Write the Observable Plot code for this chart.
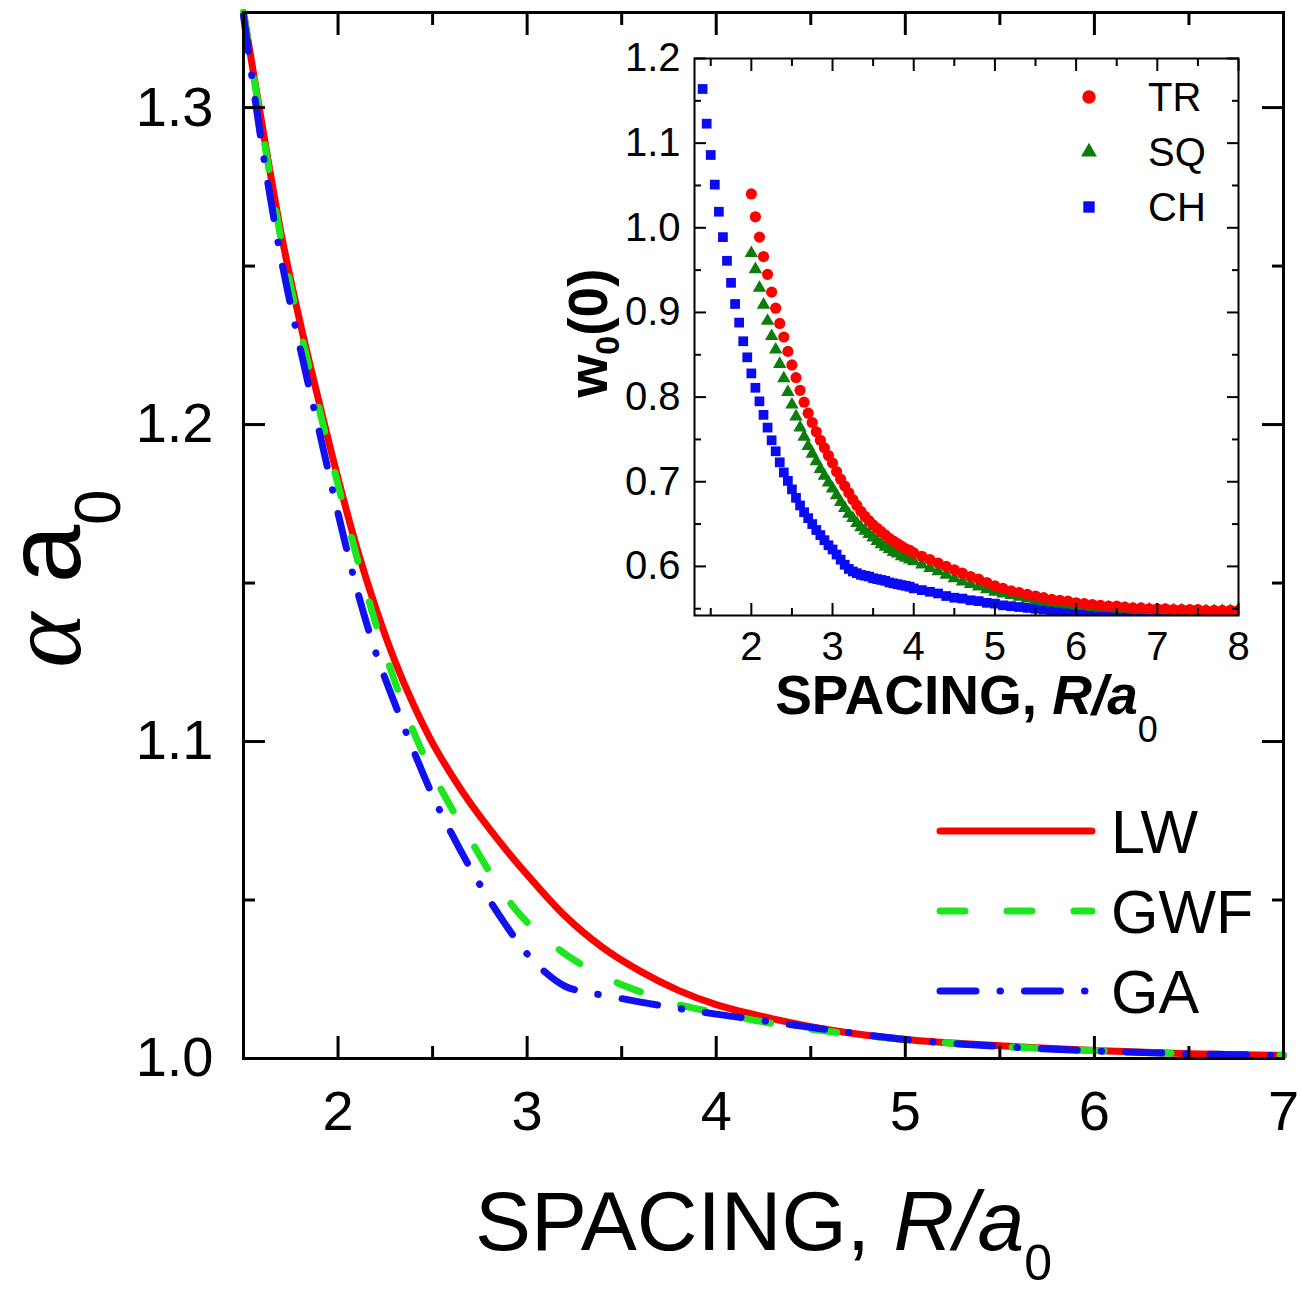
<!DOCTYPE html>
<html>
<head>
<meta charset="utf-8">
<script src="https://cdn.jsdelivr.net/npm/d3@7"></script>
<script src="https://cdn.jsdelivr.net/npm/@observablehq/plot@0.6"></script>
<style>
  body { margin: 0; background: #fff; }
  #wrap { position: relative; width: 1301px; height: 1291px; }
  #wrap > svg { position: absolute; }
</style>
</head>
<body>
<div id="wrap"></div>
<script>
// ---------- Main chart data ----------
const mainR = [1.5,1.6,1.7,1.8,1.9,2.0,2.1,2.2,2.3,2.4,2.5,2.6,2.7,2.8,2.9,3.0,3.2,3.4,3.6,3.8,4.0,4.3,4.6,5.0,5.5,6.0,6.5,7.0];
const alphaLW  = [1.330,1.294,1.260,1.232,1.207,1.183,1.161,1.142,1.1255,1.1115,1.0995,1.0895,1.0805,1.0725,1.065,1.058,1.045,1.035,1.0275,1.0215,1.017,1.0125,1.009,1.006,1.004,1.0025,1.0015,1.001];
const alphaGWF = [1.330,1.293,1.258,1.230,1.205,1.181,1.158,1.137,1.119,1.103,1.090,1.079,1.069,1.059,1.050,1.043,1.033,1.026,1.021,1.017,1.0145,1.011,1.0085,1.006,1.0038,1.0025,1.0015,1.001];
const gaR = [1.5,1.6,1.7,1.8,1.9,2.0,2.1,2.2,2.3,2.4,2.5,2.6,2.7,2.8,2.9,3.0,3.1,3.2,3.3,3.4,3.6,3.8,4.0,4.3,4.6,5.0,5.5,6.0,6.5,7.0];
const alphaGA  = [1.329,1.287,1.252,1.224,1.198,1.172,1.148,1.128,1.112,1.097,1.083,1.071,1.060,1.050,1.041,1.033,1.027,1.0228,1.0210,1.0200,1.0178,1.0158,1.014,1.0115,1.009,1.006,1.0038,1.0024,1.0015,1.001];
const mainSeries = ["LW", "GWF", "GA"];
const mainXTicks = [2,3,4,5,6,7];
const mainXMinor = [1.5,2.5,3.5,4.5,5.5,6.5];
const mainYTicks = [1.0,1.1,1.2,1.3];
const mainYMinor = [1.05,1.15,1.25];

// ---------- Inset data ----------
const chR = [1.40,1.45,1.50,1.55,1.60,1.65,1.70,1.75,1.80,1.85,1.90,1.95,2.00,2.05,2.10,2.15,2.20,2.25,2.30,2.35,2.40,2.45,2.50,2.55,2.60,2.65,2.70,2.75,2.80,2.85,2.90,2.95,3.00,3.05,3.10,3.15,3.20,3.25,3.30,3.35,3.40,3.45,3.50,3.55,3.60,3.65,3.70,3.75,3.80,3.85,3.90,3.95,4.00,
  4.1,4.2,4.3,4.4,4.5,4.6,4.7,4.8,4.9,5.0,5.1,5.2,5.3,5.4,5.5,5.6,5.7,5.8,5.9,6.0,6.1,6.2,6.3,6.4,6.5,6.6,6.7,6.8,6.9,7.0,7.1,7.2,7.3,7.4,7.5,7.6,7.7,7.8,7.9,8.0];
const wCH = [1.164,1.123,1.086,1.051,1.019,0.989,0.961,0.935,0.910,0.888,0.866,0.847,0.828,0.811,0.795,0.779,0.764,0.749,0.736,0.723,0.711,0.701,0.691,0.681,0.672,0.664,0.657,0.650,0.643,0.637,0.631,0.625,0.620,0.614,0.608,0.602,0.597,0.594,0.592,0.590,0.589,0.588,0.586,0.585,0.584,0.583,0.581,0.580,0.579,0.578,0.577,0.576,0.574,
  0.572,0.570,0.568,0.565,0.563,0.562,0.560,0.559,0.557,0.556,0.554,0.553,0.552,0.551,0.550,0.549,0.548,0.548,0.547,0.547,0.546,0.546,0.546,0.545,0.545,0.545,0.545,0.545,0.545,0.545,0.545,0.545,0.545,0.545,0.545,0.545,0.545,0.545,0.545,0.545];
const trR = [2.00,2.05,2.10,2.15,2.20,2.25,2.30,2.35,2.40,2.45,2.50,2.55,2.60,2.65,2.70,2.75,2.80,2.85,2.90,2.95,3.00,3.05,3.10,3.15,3.20,3.25,3.30,3.35,3.40,3.45,3.50,3.55,3.60,3.65,3.70,3.75,3.80,3.85,3.90,3.95,4.00,
  4.1,4.2,4.3,4.4,4.5,4.6,4.7,4.8,4.9,5.0,5.1,5.2,5.3,5.4,5.5,5.6,5.7,5.8,5.9,6.0,6.1,6.2,6.3,6.4,6.5,6.6,6.7,6.8,6.9,7.0,7.1,7.2,7.3,7.4,7.5,7.6,7.7,7.8,7.9,8.0];
const wTR = [1.040,1.013,0.989,0.966,0.945,0.924,0.905,0.887,0.871,0.854,0.838,0.823,0.808,0.794,0.781,0.770,0.759,0.749,0.740,0.731,0.722,0.712,0.703,0.695,0.687,0.679,0.672,0.665,0.659,0.654,0.649,0.645,0.641,0.637,0.633,0.630,0.627,0.624,0.621,0.619,0.616,
  0.612,0.608,0.604,0.600,0.596,0.592,0.588,0.585,0.581,0.577,0.574,0.571,0.569,0.567,0.565,0.563,0.561,0.560,0.559,0.557,0.556,0.555,0.554,0.553,0.553,0.552,0.551,0.551,0.550,0.550,0.550,0.549,0.549,0.549,0.549,0.548,0.548,0.548,0.548,0.548];
const wSQ = [0.970,0.951,0.929,0.909,0.890,0.872,0.856,0.839,0.822,0.806,0.791,0.777,0.764,0.753,0.742,0.733,0.724,0.715,0.707,0.699,0.692,0.684,0.676,0.669,0.662,0.657,0.651,0.646,0.642,0.638,0.634,0.630,0.626,0.623,0.620,0.617,0.615,0.612,0.610,0.608,0.606,
  0.602,0.598,0.594,0.590,0.586,0.582,0.579,0.576,0.573,0.570,0.568,0.566,0.564,0.562,0.560,0.558,0.557,0.556,0.555,0.554,0.553,0.552,0.551,0.551,0.550,0.550,0.549,0.549,0.549,0.548,0.548,0.548,0.548,0.547,0.547,0.547,0.547,0.547,0.547,0.547];
const insetSeries = ["TR", "SQ", "CH"];
const insetXTicks = [2,3,4,5,6,7,8];
const insetXMinor = [1.5,2.5,3.5,4.5,5.5,6.5,7.5];
const insetYTicks = [0.6,0.7,0.8,0.9,1.0,1.1,1.2];
const insetYMinor = [0.55,0.65,0.75,0.85,0.95,1.05,1.15];

// ---------- Styles ----------
const colors = {LW: "#ff0000", GWF: "#1ee61e", GA: "#1010f0", TR: "#ff0000", SQ: "#0a7d0a", CH: "#0a0af5"};
const dashes = {LW: null, GWF: "25,42", GA: "36,24,0.5,24"};
const FONT = "'Liberation Sans', Arial, Helvetica, sans-serif";

const rows = (xs, ys) => xs.map((x, i) => ({x, y: ys[i]}));

function frameAxes(xT, xM, yT, yM, o) {
  const c = {label: null, strokeWidth: o.sw};
  return [
    Plot.axisX(xT, {anchor: "bottom", tickSize: -o.major, tickPadding: o.major + o.padX, fontSize: o.fs, tickFormat: o.fx, ...c}),
    Plot.axisX(xM, {anchor: "bottom", tickSize: -o.minor, fill: "none", ...c}),
    Plot.axisX(xT, {anchor: "top", tickSize: -o.major, fill: "none", ...c}),
    Plot.axisX(xM, {anchor: "top", tickSize: -o.minor, fill: "none", ...c}),
    Plot.axisY(yT, {anchor: "left", tickSize: -o.major, tickPadding: o.major + o.padY, fontSize: o.fs, tickFormat: o.fy, ...c}),
    Plot.axisY(yM, {anchor: "left", tickSize: -o.minor, fill: "none", ...c}),
    Plot.axisY(yT, {anchor: "right", tickSize: -o.major, fill: "none", ...c}),
    Plot.axisY(yM, {anchor: "right", tickSize: -o.minor, fill: "none", ...c})
  ];
}

function richText(svg, key, parts) {
  d3.select(svg).selectAll("text").filter(function () { return this.textContent === key; }).each(function () {
    const t = d3.select(this);
    t.text(null);
    parts.forEach(p => {
      const s = t.append("tspan").text(p.text);
      Object.entries(p.attrs || {}).forEach(([k, v]) => s.attr(k, v));
    });
  });
}

// ---------- Main plot ----------
const xTitle = "SPACING, R/a0";
const yTitle = "α a0";
const main = Plot.plot({
  width: 1301, height: 1291,
  marginLeft: 243, marginRight: 18, marginTop: 12, marginBottom: 233,
  x: {domain: [1.5, 7], label: null},
  y: {domain: [1.0, 1.33], label: null},
  style: {fontFamily: FONT, color: "black", background: "white", overflow: "visible"},
  marks: [
    Plot.line(rows(mainR, alphaLW), {x: "x", y: "y", stroke: colors.LW, strokeWidth: 7, curve: "catmull-rom"}),
    Plot.line(rows(mainR, alphaGWF), {x: "x", y: "y", stroke: colors.GWF, strokeWidth: 7, curve: "catmull-rom", strokeDasharray: dashes.GWF, strokeLinecap: "round"}),
    Plot.line(rows(gaR, alphaGA), {x: "x", y: "y", stroke: colors.GA, strokeWidth: 7, curve: "catmull-rom", strokeDasharray: dashes.GA, strokeLinecap: "round"}),
    Plot.frame({strokeWidth: 3}),
    ...frameAxes(mainXTicks, mainXMinor, mainYTicks, mainYMinor, {sw: 3, major: 22, minor: 12, padX: 32, padY: 30, fs: 56, fx: d3.format("d"), fy: d3.format(".1f")}),
    Plot.text([xTitle], {text: d => d, frameAnchor: "bottom", lineAnchor: "bottom", textAnchor: "middle", dy: 191, fontSize: 84}),
    Plot.text([yTitle], {text: d => d, frameAnchor: "left", lineAnchor: "middle", textAnchor: "middle", rotate: -90, dx: -197, dy: 43, fontSize: 105})
  ]
});
document.getElementById("wrap").appendChild(main);
main.style.left = "0px"; main.style.top = "0px";

richText(main, xTitle, [
  {text: "SPACING, "},
  {text: "R/a", attrs: {"font-style": "italic"}},
  {text: "0", attrs: {"font-size": 50, dy: 30}}
]);
richText(main, yTitle, [
  {text: "α", attrs: {"font-family": "'Liberation Serif', 'Times New Roman', serif", "font-style": "italic"}},
  {text: " a"},
  {text: "0", attrs: {"font-size": 64, dy: 40}}
]);

// main legend
const mlg = d3.select(main).append("g").attr("class", "legend-main").attr("text-anchor", "start");
mainSeries.forEach((k, i) => {
  const y = 831 + i * 80;
  mlg.append("line").attr("x1", 940).attr("x2", 1092).attr("y1", y).attr("y2", y)
    .attr("stroke", colors[k]).attr("stroke-width", 7).attr("stroke-linecap", "round")
    .attr("stroke-dasharray", dashes[k]);
  mlg.append("text").attr("x", 1111).attr("y", y + 22).attr("font-size", 61)
    .attr("font-family", FONT).attr("fill", "black").attr("text-anchor", "start").text(k);
});

// ---------- Inset plot ----------
const ixTitle = "SPACING, R/a0 ";
const iyTitle = "w0(0)";
const inset = Plot.plot({
  width: 720, height: 730,
  marginLeft: 154, marginRight: 22, marginTop: 38, marginBottom: 135,
  x: {domain: [1.3, 8], label: null},
  y: {domain: [0.542, 1.2], label: null},
  style: {fontFamily: FONT, color: "black", background: "transparent", overflow: "visible"},
  marks: [
    Plot.dot(rows(chR, wCH), {x: "x", y: "y", symbol: "square", r: 5.5, fill: colors.CH, clip: true}),
    Plot.dot(rows(trR, wSQ), {x: "x", y: "y", symbol: "triangle", r: 5.0, fill: colors.SQ, clip: true}),
    Plot.dot(rows(trR, wTR), {x: "x", y: "y", symbol: "circle", r: 5.6, fill: colors.TR, clip: true}),
    Plot.frame({strokeWidth: 2}),
    ...frameAxes(insetXTicks, insetXMinor, insetYTicks, insetYMinor, {sw: 2, major: 12, minor: 7, padX: 16, padY: 14, fs: 40, fx: d3.format("d"), fy: d3.format(".1f")}),
    Plot.text([ixTitle], {text: d => d, frameAnchor: "bottom", lineAnchor: "bottom", textAnchor: "middle", dy: 98, fontSize: 55, fontWeight: "bold"}),
    Plot.text([iyTitle], {text: d => d, frameAnchor: "left", lineAnchor: "middle", textAnchor: "middle", rotate: -90, dx: -105, dy: -4, fontSize: 55, fontWeight: "bold"})
  ]
});
document.getElementById("wrap").appendChild(inset);
inset.style.left = "540px"; inset.style.top = "20px";

richText(inset, ixTitle, [
  {text: "SPACING, "},
  {text: "R/a", attrs: {"font-style": "italic"}},
  {text: "0", attrs: {"font-size": 36, "font-weight": "normal", dy: 28}}
]);
richText(inset, iyTitle, [
  {text: "w"},
  {text: "0", attrs: {"font-size": 34, dy: 12}},
  {text: "(0)", attrs: {dy: -12}}
]);

// inset legend
const ilg = d3.select(inset).append("g").attr("class", "legend-inset").attr("text-anchor", "start");
const syms = {TR: d3.symbolCircle, SQ: d3.symbolTriangle, CH: d3.symbolSquare};
const sizes = {TR: 140, SQ: 110, CH: 130};
insetSeries.forEach((k, i) => {
  const y = 77 + i * 55;
  ilg.append("path").attr("transform", `translate(549,${y})`)
    .attr("d", d3.symbol(syms[k], sizes[k])()).attr("fill", colors[k]);
  ilg.append("text").attr("x", 608).attr("y", y + 14).attr("font-size", 40)
    .attr("font-family", FONT).attr("fill", "black").attr("text-anchor", "start").text(k);
});
</script>
</body>
</html>
